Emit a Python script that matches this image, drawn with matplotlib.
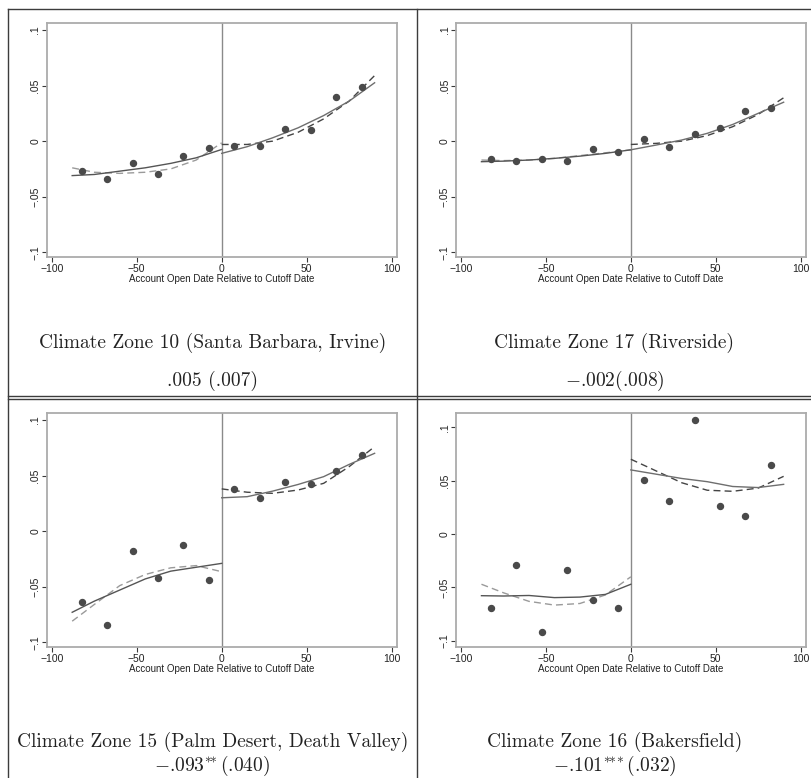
import matplotlib

matplotlib.use("Agg")
import matplotlib.pyplot as plt
from matplotlib.lines import Line2D

FIG_W, FIG_H = 812, 778

BIN_CENTERS = [-82.5, -67.5, -52.5, -37.5, -22.5, -7.5, 7.5, 22.5, 37.5, 52.5, 67.5, 82.5]
FIT_X_LEFT = [-88, -75, -60, -45, -30, -15, 0]
FIT_X_RIGHT = [0, 15, 30, 45, 60, 75, 90]

X_TICKS = [-100, -50, 0, 50, 100]
Y_TICKS = [-0.1, -0.05, 0, 0.05, 0.1]
Y_TICK_LABELS = ["\u2212.1", "\u2212.05", "0", ".05", ".1"]
X_LABEL = "Account Open Date Relative to Cutoff Date"

# Climate zone 10
Z10_MEANS = [-0.027, -0.034, -0.0195, -0.030, -0.013, -0.006, -0.0045, -0.0045, 0.011, 0.0097, 0.0395, 0.0485]
Z10_SOLID_L = [-0.031, -0.030, -0.027, -0.024, -0.020, -0.015, -0.0075]
Z10_DASH_L = [-0.024, -0.028, -0.029, -0.028, -0.025, -0.017, -0.0015]
Z10_SOLID_R = [-0.011, -0.005, 0.003, 0.012, 0.023, 0.036, 0.0525]
Z10_DASH_R = [-0.003, -0.003, 0.0, 0.008, 0.020, 0.036, 0.059]

# Climate zone 17
Z17_MEANS = [-0.016, -0.018, -0.016, -0.018, -0.0072, -0.0096, 0.002, -0.0056, 0.006, 0.0114, 0.027, 0.030]
Z17_SOLID_L = [-0.0185, -0.018, -0.017, -0.0155, -0.0135, -0.011, -0.0078]
Z17_DASH_L = [-0.017, -0.0175, -0.017, -0.0155, -0.013, -0.0105, -0.0078]
Z17_SOLID_R = [-0.0078, -0.0035, 0.001, 0.007, 0.015, 0.025, 0.035]
Z17_DASH_R = [-0.003, -0.002, 0.0, 0.005, 0.013, 0.024, 0.039]

# Climate zone 15
Z15_MEANS = [-0.064, -0.084, -0.018, -0.042, -0.0126, -0.044, 0.038, 0.0296, 0.0446, 0.0428, 0.0545, 0.0686]
Z15_SOLID_L = [-0.073, -0.063, -0.053, -0.043, -0.036, -0.0325, -0.029]
Z15_DASH_L = [-0.081, -0.066, -0.049, -0.039, -0.033, -0.031, -0.0365]
Z15_SOLID_R = [0.030, 0.031, 0.036, 0.042, 0.049, 0.060, 0.070]
Z15_DASH_R = [0.038, 0.035, 0.034, 0.037, 0.043, 0.058, 0.076]

# Climate zone 16
Z16_MEANS = [-0.069, -0.0287, -0.092, -0.034, -0.062, -0.069, 0.051, 0.031, 0.107, 0.0265, 0.017, 0.0646]
Z16_SOLID_L = [-0.0577, -0.058, -0.0575, -0.0595, -0.059, -0.0565, -0.047]
Z16_DASH_L = [-0.047, -0.055, -0.063, -0.0665, -0.065, -0.057, -0.040]
Z16_SOLID_R = [0.060, 0.056, 0.052, 0.049, 0.0445, 0.0435, 0.0465]
Z16_DASH_R = [0.070, 0.059, 0.048, 0.041, 0.040, 0.043, 0.054]

TITLES = [
    "Climate Zone 10 (Santa Barbara, Irvine)",
    "Climate Zone 17 (Riverside)",
    "Climate Zone 15 (Palm Desert, Death Valley)",
    "Climate Zone 16 (Bakersfield)",
]
# minus signs and stars go through mathtext, the rest is plain cmr10
ESTIMATES = [
    ".005 (.007)",
    "$-$.002(.008)",
    r"$-$.093$^{*\!\!*}$(.040)",
    r"$-$.101$^{*\!\!*\!\!*}$(.032)",
]

PANELS = [
    (Z10_MEANS, Z10_SOLID_L, Z10_DASH_L, Z10_SOLID_R, Z10_DASH_R),
    (Z17_MEANS, Z17_SOLID_L, Z17_DASH_L, Z17_SOLID_R, Z17_DASH_R),
    (Z15_MEANS, Z15_SOLID_L, Z15_DASH_L, Z15_SOLID_R, Z15_DASH_R),
    (Z16_MEANS, Z16_SOLID_L, Z16_DASH_L, Z16_SOLID_R, Z16_DASH_R),
]

# pixel boxes (left, top, right, bottom) of each plot region
AXES_BOXES = [
    (46.7, 23.3, 396.7, 257.3),
    (456.0, 23.3, 805.7, 257.3),
    (46.7, 413.3, 396.7, 647.3),
    (456.0, 413.3, 805.7, 647.3),
]
Y_LIMITS = [(-0.1045, 0.106), (-0.1045, 0.106), (-0.1045, 0.106), (-0.106, 0.113)]
CAPTION_X = [212.5, 614.5, 212.5, 614.5]
CAPTION_Y = [(343, 381), (343, 381), (742, 766), (742, 766)]

COLORS = {
    "frame": "#ababab",
    "ticks": "#3a3a3a",
    "cutoff": "#8a8a8a",
    "marker": "#4a4a4a",
    "solid_l": "#555555",
    "solid_r": "#6e6e6e",
    "dash_l": "#9a9a9a",
    "dash_r": "#444444",
    "rule": "#3c3c3c",
}

plt.rcParams["mathtext.fontset"] = "cm"


def fx(px):
    return px / FIG_W


def fy(py):
    return 1 - py / FIG_H


def draw_panel(fig, box, ylim, data):
    left, top, right, bottom = box
    ax = fig.add_axes([fx(left), fy(bottom), (right - left) / FIG_W, (bottom - top) / FIG_H])
    means, solid_l, dash_l, solid_r, dash_r = data

    ax.axvline(0, color=COLORS["cutoff"], linewidth=1.0, zorder=1)
    ax.plot(FIT_X_LEFT, dash_l, color=COLORS["dash_l"], linewidth=1.0, dashes=(5, 3), zorder=2)
    ax.plot(FIT_X_RIGHT, dash_r, color=COLORS["dash_r"], linewidth=1.0, dashes=(5, 3), zorder=2)
    ax.plot(FIT_X_LEFT, solid_l, color=COLORS["solid_l"], linewidth=1.0, zorder=3)
    ax.plot(FIT_X_RIGHT, solid_r, color=COLORS["solid_r"], linewidth=1.0, zorder=3)
    ax.plot(BIN_CENTERS, means, linestyle="none", marker="o", markersize=4.3,
            color=COLORS["marker"], zorder=4)

    ax.set_xlim(-103, 103)
    ax.set_ylim(*ylim)
    ax.set_xticks(X_TICKS)
    ax.set_yticks(Y_TICKS)
    ax.set_yticklabels(Y_TICK_LABELS, rotation=90, va="center")
    ax.set_xlabel(X_LABEL, fontsize=7.0, labelpad=0.0, color="#222222")
    for spine in ax.spines.values():
        spine.set_color(COLORS["frame"])
        spine.set_linewidth(1.3)
    ax.tick_params(axis="both", direction="out", length=3.5, width=0.8,
                   color=COLORS["ticks"], labelcolor="#222222", labelsize=7.5, pad=1.0)
    return ax


def draw_rules(fig):
    lines = [
        ((8, 812), (9, 9)),
        ((8, 8), (9, 778)),
        ((417, 417), (9, 778)),
        ((8, 812), (396, 396)),
        ((8, 812), (398.5, 398.5)),
    ]
    for xs, ys in lines:
        fig.add_artist(Line2D([fx(x) for x in xs], [fy(y) for y in ys],
                              color=COLORS["rule"], linewidth=1.0))


def main():
    plt.rcParams["font.family"] = ["Liberation Sans", "DejaVu Sans"]
    fig = plt.figure(figsize=(FIG_W / 100, FIG_H / 100), dpi=100)
    fig.patch.set_facecolor("white")

    for i, data in enumerate(PANELS):
        draw_panel(fig, AXES_BOXES[i], Y_LIMITS[i], data)
        ty, ey = CAPTION_Y[i]
        fig.text(fx(CAPTION_X[i]), fy(ty), TITLES[i], family="cmr10", fontsize=14,
                 ha="center", va="center", color="#222222")
        fig.text(fx(CAPTION_X[i]), fy(ey), ESTIMATES[i], family="cmr10", fontsize=14,
                 ha="center", va="center", color="#222222")

    draw_rules(fig)
    fig.savefig("out.png", dpi=100)
    plt.close(fig)


if __name__ == "__main__":
    main()
